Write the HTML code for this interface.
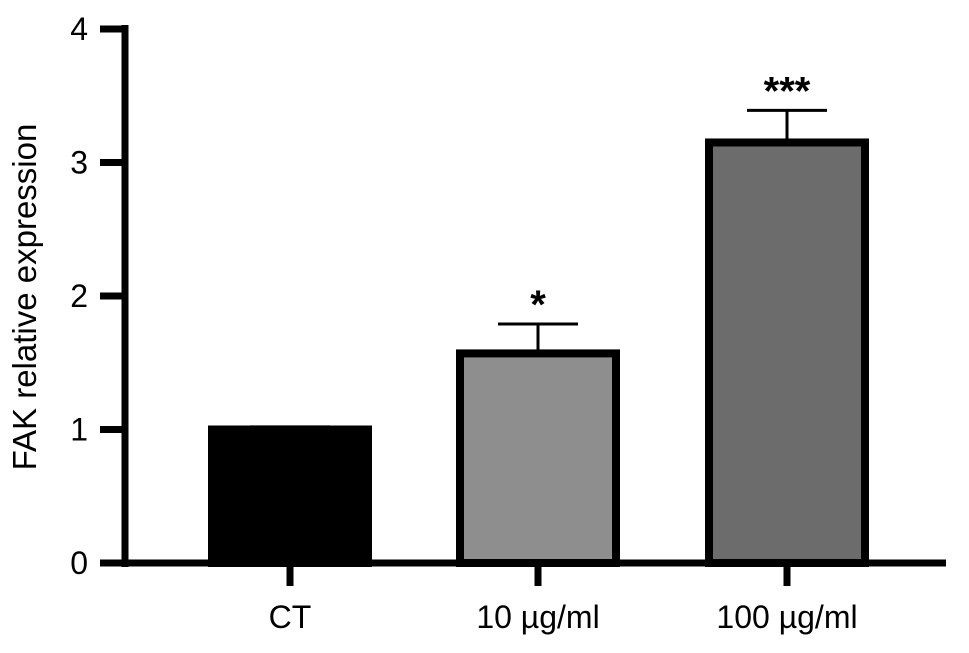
<!DOCTYPE html>
<html><head><meta charset="utf-8"><style>
html,body{margin:0;padding:0;background:#fff;}
svg text{font-family:"Liberation Sans",Arial,sans-serif;fill:#000;}
</style></head><body>
<svg id="chart" width="969" height="648" viewBox="0 0 969 648" xmlns="http://www.w3.org/2000/svg">
<text x="0" y="0" transform="translate(36,297) rotate(-90)" text-anchor="middle" font-size="33">FAK relative expression</text>
<g id="marks"></g>
</svg>
<script>
const categories = ["CT", "10 µg/ml", "100 µg/ml"];
const means = [1.0, 1.57, 3.15];
const errors = [0.02, 0.22, 0.24];
const stars = ["", "*", "***"];
const fills = ["#000000", "#8e8e8e", "#6c6c6c"];
const yTicks = [0, 1, 2, 3, 4];

const svg = document.getElementById('marks');
const NS = 'http://www.w3.org/2000/svg';
const y0 = 563, yTop = 29;
function y(v){ return y0 - (y0 - yTop) * v / 4; }
const centers = [290, 538, 787];
function x(i){ return centers[i]; }
const barW = 164;
function mk(tag, attrs){ const e = document.createElementNS(NS, tag); for (const k in attrs) e.setAttribute(k, attrs[k]); svg.appendChild(e); return e; }

yTicks.forEach(t => {
  const tk = mk('line', {x1:100, x2:128, y1:y(t), y2:y(t), stroke:'#000', 'stroke-width':7});
  
  
  const lb = mk('text', {x:88, y:y(t)+11, 'text-anchor':'end', 'font-size':32});
  lb.textContent = t;
  
  
});

categories.forEach((c, i) => {
  const cx = x(i);
  const top = y(means[i]);
  const eb = mk('line', {x1:cx, x2:cx, y1:y(means[i]+errors[i]), y2:top, stroke:'#000', 'stroke-width':3});
  
  
  const cap = mk('line', {x1:cx-40, x2:cx+40, y1:y(means[i]+errors[i]), y2:y(means[i]+errors[i]), stroke:'#000', 'stroke-width':3});
  
  
  const b = mk('rect', {x:cx-barW/2+4, y:top, width:barW-8, height:y0-top, fill:fills[i], stroke:'#000', 'stroke-width':8});
  
  
  const xt = mk('line', {x1:cx, x2:cx, y1:563, y2:586, stroke:'#000', 'stroke-width':7});
  
  
  const xl = mk('text', {x:cx, y:628, 'text-anchor':'middle', 'font-size':32});
  xl.textContent = c;
  
  
  if (stars[i]) {
    const s = mk('text', {x:cx, y:y(means[i]+errors[i]) - 6, 'text-anchor':'middle', 'font-size':40, 'font-weight':'bold'});
    s.textContent = stars[i];
    
    
  }
});

const ya = mk('line', {x1:125, x2:125, y1:25, y2:567, stroke:'#000', 'stroke-width':7});


const xa = mk('line', {x1:121, x2:946, y1:563, y2:563, stroke:'#000', 'stroke-width':7});


</script>
</body></html>
